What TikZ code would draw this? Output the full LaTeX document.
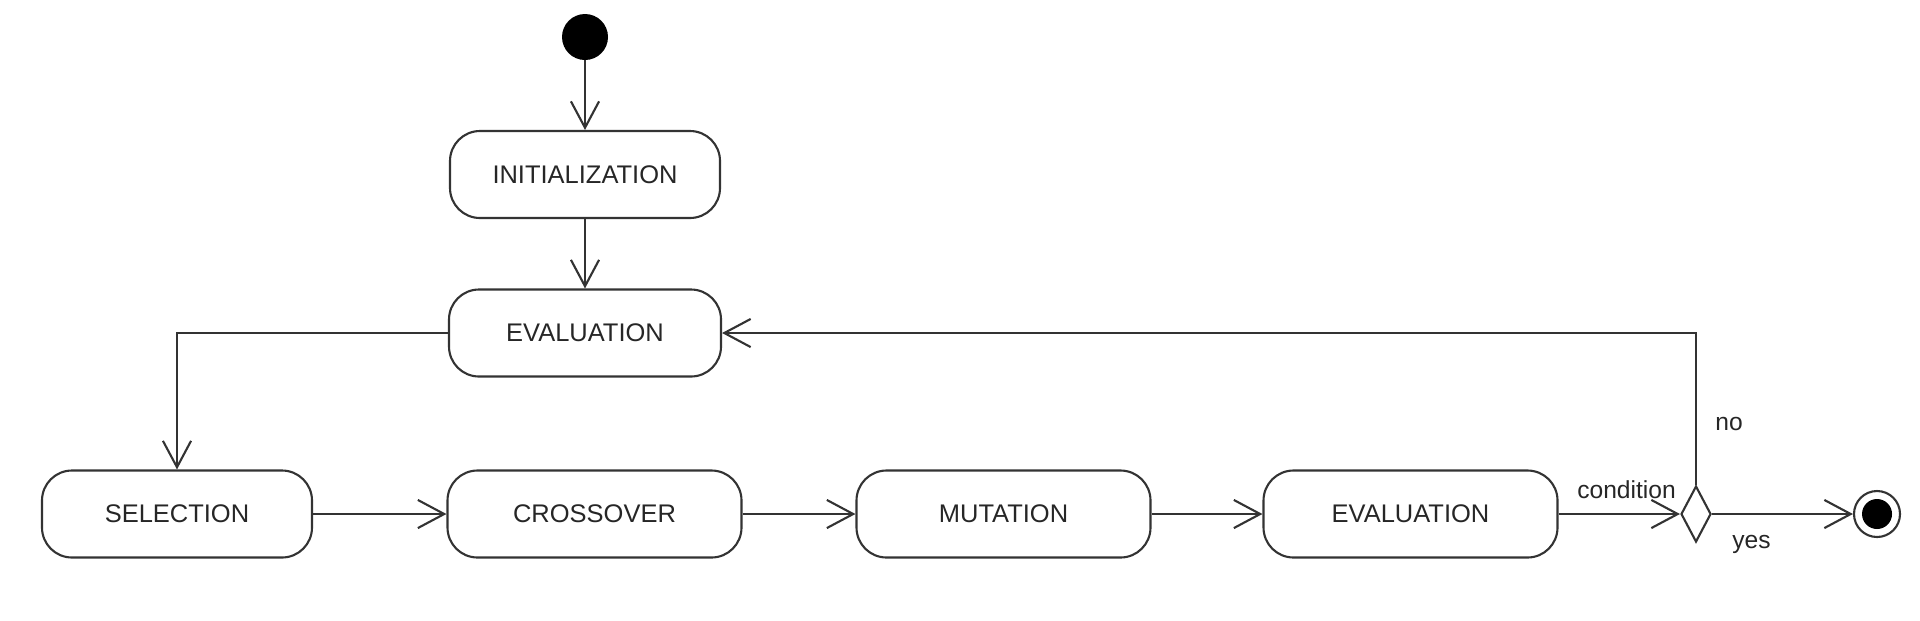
\documentclass[tikz,border=0pt]{standalone}
\usepackage{fontspec}
\setmainfont{Liberation Sans}
\usepackage{tikz}
\usetikzlibrary{shapes.geometric, positioning, arrows.meta}
\tikzstyle{activity} = [rectangle, rounded corners=0.6cm, minimum width=5.4cm, minimum height=1.74cm, text centered, draw=black!80, line width=1.2pt, text=black!85, font=\fontsize{14.5}{17}\selectfont]
\tikzstyle{wide} = [minimum width=5.88cm]
\tikzstyle{startstate} = [circle, fill=black, minimum size=0.92cm, inner sep=0pt]
\tikzstyle{endstate} = [circle, draw=black!80, line width=1.2pt, minimum size=0.92cm, inner sep=0pt]
\tikzstyle{endcore} = [circle, fill=black, minimum size=0.6cm, inner sep=0pt]
\tikzstyle{decision} = [diamond, draw=black!80, line width=1.2pt, minimum width=0.6cm, minimum height=1.12cm, inner sep=0pt]
\tikzstyle{arrow} = [line width=1.2pt, draw=black!80, -{Straight Barb[length=15pt, width=16pt]}]
\tikzstyle{guard} = [text=black!85, font=\fontsize{14}{16}\selectfont]

\begin{document}
\begin{tikzpicture}[node distance=3cm]
\useasboundingbox (0,0) rectangle (38.4,-12.4);

\node (start) [startstate] at (11.7,-0.74) {};
\node (init) [activity, below of=start, yshift=0.25cm] {INITIALIZATION};
\draw [arrow] (start) -- (init);
\node (eval1) [activity, below of=init, yshift=-0.17cm, minimum width=5.44cm] {EVALUATION};
\draw [arrow] (init) -- (eval1);

\node (cross) [activity, wide, below of=eval1, yshift=-0.62cm, xshift=0.19cm] {CROSSOVER};
\node (select) [activity, left of=cross, xshift=-5.35cm] {SELECTION};
\node (mutate) [activity, wide, right of=cross, xshift=5.18cm] {MUTATION};
\node (eval2) [activity, wide, right of=mutate, xshift=5.14cm] {EVALUATION};
\node (check) [decision, right of=eval2, xshift=2.71cm] {};
\node (stop) [endstate, right of=check, xshift=0.62cm] {};
\node [endcore] at (stop) {};

\draw [arrow] (eval1.west) -| (select.north);
\draw [arrow] (select) -- (cross);
\draw [arrow] (cross) -- (mutate);
\draw [arrow] (mutate) -- (eval2);
\draw [arrow] (eval2) -- node[guard, above=0.17cm, pos=0.56] {condition} (check);
\draw [arrow] (check) -- node[guard, below=0.28cm, pos=0.28] {yes} (stop);
\draw [arrow] (check.north) |- node[guard, right=0.25cm, pos=0.2] {no} (eval1.east);

\end{tikzpicture}
\end{document}
